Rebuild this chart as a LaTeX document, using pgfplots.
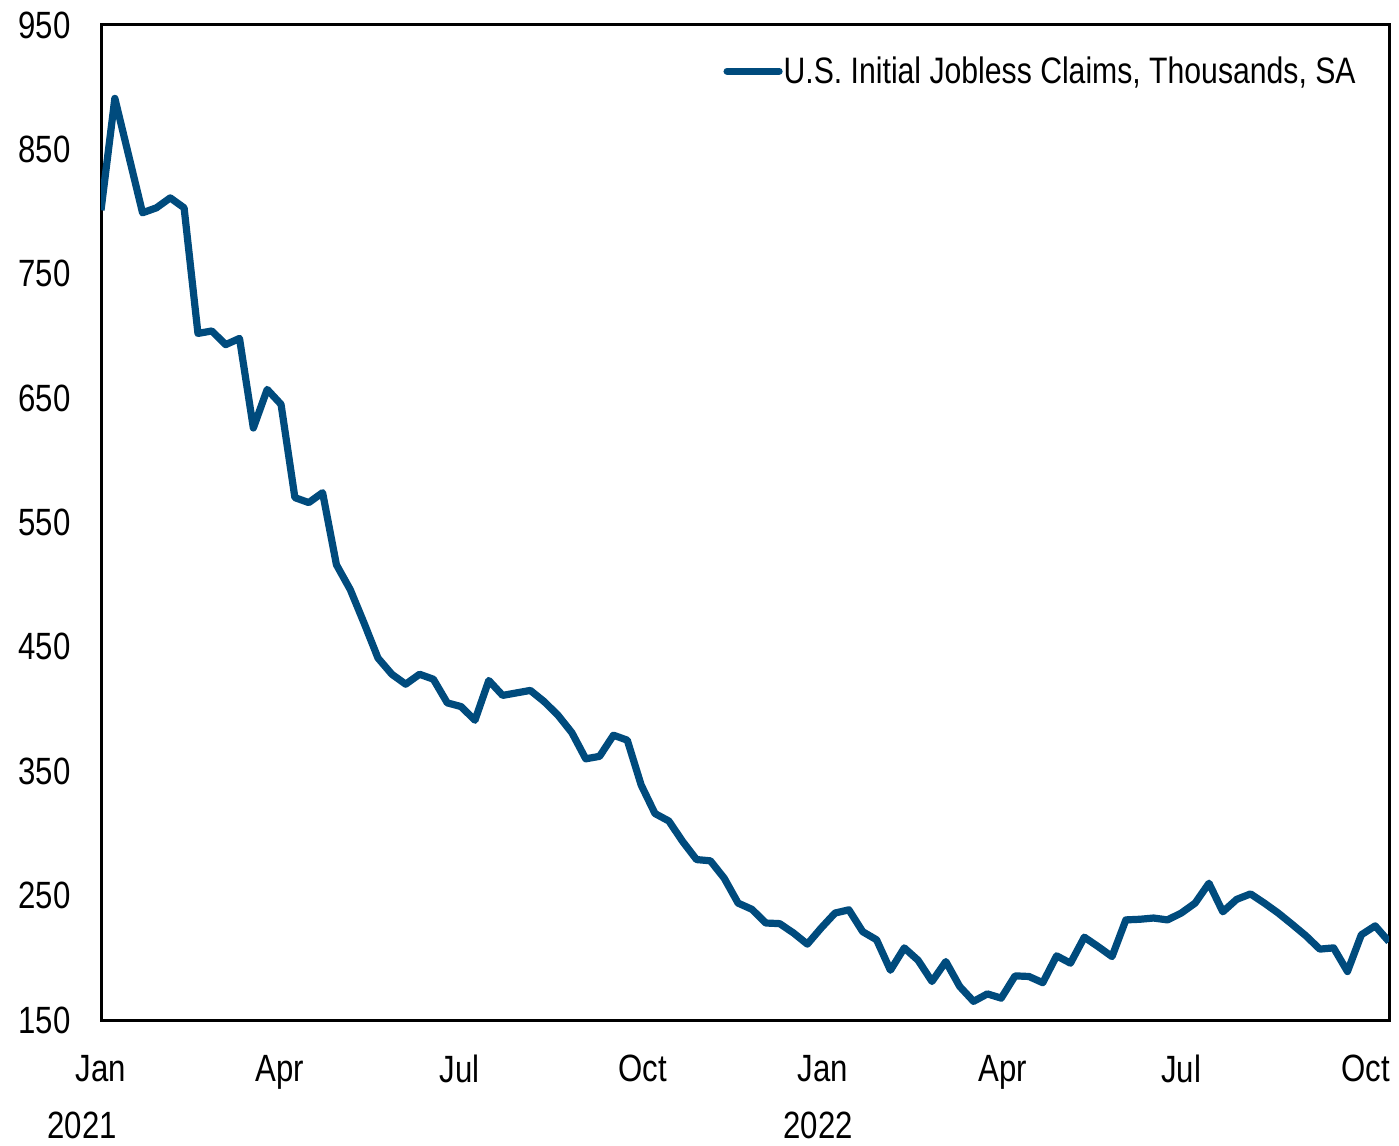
\documentclass[border=0pt]{standalone}
\usepackage{pgfplots}
\pgfplotsset{compat=1.18}
\usepackage{fontspec}
\setmainfont[FakeStretch=0.82]{Liberation Sans}
\definecolor{claims}{HTML}{004B7D}
\begin{document}
\begin{tikzpicture}[font=\fontsize{19}{22}\selectfont]
\begin{axis}[
  name=ax,
  scale only axis,
  width=644pt, height=497.5pt,
  xmin=0, xmax=93, ymin=150, ymax=950,
  ytick={150,250,...,950},
  xtick={0,12.9,25.9,39.1,52.1,65.1,78.0,91.3},
  xticklabels={Jan,Apr,Jul,Oct,Jan,Apr,Jul,Oct},
  major tick length=0pt,
  axis line style={line width=1.5pt},
  /pgf/number format/assume math mode=true,
  yticklabel style={inner sep=0pt, anchor=east, xshift=-15pt},
  xticklabel style={inner sep=0pt, anchor=north, yshift=-17.5pt},
  legend style={at={(1,1)}, anchor=north east, draw=none, fill=none,
    xshift=-16pt, yshift=-15pt, inner sep=0pt, nodes={inner sep=0.5pt},
    font=\fontsize{18.4}{22}\selectfont},
  legend image code/.code={\draw[#1,line cap=round] (0pt,0pt) -- (26pt,0pt);},
]
\addplot[claims, line width=3.6pt, line join=round] table[x=i,y=v] {
i v
0 801
1 891
2 845
3 799
4 803
5 811
6 803
7 702
8 704
9 693
10 698
11 626
12 657
13 645
14 570
15 566
16 574
17 516
18 496
19 469
20 441
21 428
22 420
23 428
24 424
25 405
26 402
27 391
28 423
29 411
30 413
31 415
32 406
33 395
34 381
35 360
36 362
37 379
38 375
39 339
40 316
41 310
42 293.5
43 279
44 278
45 264
46 244
47 239
48 228
49 227.5
50 220
51 211
52 224
53 236
54 238.6
55 221
56 214.5
57 190
58 208
59 198
60 181
61 197
62 177
63 165
64 171
65 167.6
66 185.5
67 185
68 180
69 201.6
70 195.7
71 216.6
72 209
73 201
74 230.5
75 231
76 232
77 230.5
78 236
79 244
80 260
81 237
82 247
83 251.4
84 244
85 236
86 227
87 217.7
88 207
89 208
90 189
91 218.5
92 225.7
93 213
};
\addlegendentry{U.S. Initial Jobless Claims, Thousands, SA}
\end{axis}
\node[anchor=north, inner sep=0pt] at ([xshift=-9.35pt,yshift=-46pt]ax.south west) {2021};
\node[anchor=north, inner sep=0pt] at ([xshift=358.5pt,yshift=-46pt]ax.south west) {2022};
\path ([xshift=-50.5pt,yshift=-62.5pt]ax.south west) rectangle ([xshift=5pt,yshift=12.5pt]ax.north east);
\end{tikzpicture}
\end{document}
